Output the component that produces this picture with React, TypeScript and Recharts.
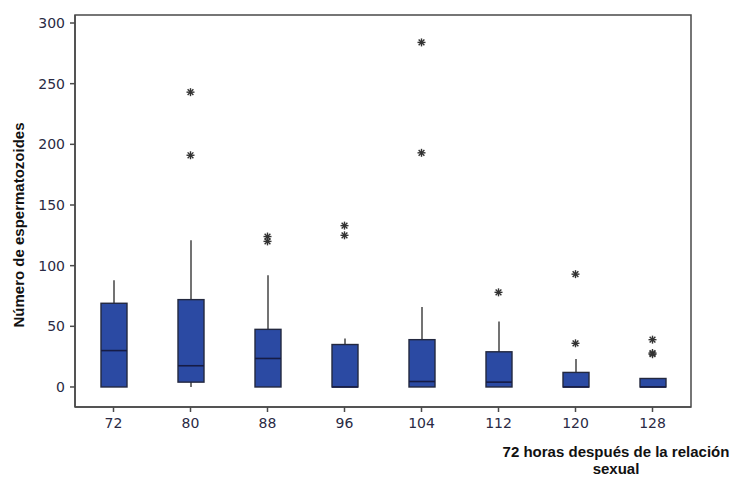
import React from "react";
import {
  ComposedChart,
  Bar,
  Line,
  XAxis,
  YAxis,
  Label,
  ReferenceArea,
} from "recharts";

// hours after intercourse (categories) and box-plot stats
const hours = ["72", "80", "88", "96", "104", "112", "120", "128"];
const q1 = [0, 4, 0, 0, 0, 0, 0, 0];
const median = [30, 17.5, 23.5, 0, 4.5, 4, 0, 0];
const q3 = [69, 72, 47.5, 35, 39, 29, 12, 7];
const whiskerLow = [0, 0, 0, 0, 0, 0, 0, 0];
const whiskerHigh = [88, 121, 92, 40, 66, 54, 23, 7];
const outlierA = [null, 243, 124, 133, 284, 78, 93, 39];
const outlierB = [null, 191, 120, 125, 193, null, 36, 28];
const outlierC = [null, null, null, null, null, null, null, 27];

const yTicks = [0, 50, 100, 150, 200, 250, 300];
const Y_DOMAIN = [-16.5, 306.6];

const BOX_FILL = "#2b4aa3";
const BOX_STROKE = "#23283f";
const MEDIAN_COLOR = "#161c45";
const WHISKER_COLOR = "#505050";
const FRAME_COLOR = "#4a4a4a";
const TICK_COLOR = "#2a2a44";
const STAR_COLOR = "#333333";

const data = hours.map((h, i) => ({
  h,
  box: [q1[i], q3[i]],
  whisker: [whiskerLow[i], whiskerHigh[i]],
  med: [median[i], median[i]],
  oA: outlierA[i],
  oB: outlierB[i],
  oC: outlierC[i],
}));

function WhiskerShape(props: any) {
  const { x, y, width, height } = props;
  if (x == null || y == null) return <g />;
  const cx = x + width / 2;
  return (
    <line x1={cx} x2={cx} y1={y} y2={y + height} stroke={WHISKER_COLOR} strokeWidth={1.6} />
  );
}

function BoxShape(props: any) {
  const { x, y, width, height } = props;
  if (x == null || y == null) return <g />;
  return (
    <rect
      x={x}
      y={y}
      width={width}
      height={Math.max(height, 0)}
      fill={BOX_FILL}
      stroke={BOX_STROKE}
      strokeWidth={1.4}
    />
  );
}

function MedianShape(props: any) {
  const { x, y, width, height } = props;
  if (x == null || y == null) return <g />;
  const my = y + height / 2;
  return <line x1={x} x2={x + width} y1={my} y2={my} stroke={MEDIAN_COLOR} strokeWidth={1.6} />;
}

function Star(props: any) {
  const { cx, cy, value } = props;
  if (value == null || cx == null || cy == null || Number.isNaN(cy)) return <g key={props.key} />;
  const r = 4;
  const d = r * 0.72;
  return (
    <g key={props.key} stroke={STAR_COLOR} strokeWidth={1.4}>
      <line x1={cx} x2={cx} y1={cy - r} y2={cy + r} />
      <line x1={cx - r} x2={cx + r} y1={cy} y2={cy} />
      <line x1={cx - d} x2={cx + d} y1={cy - d} y2={cy + d} />
      <line x1={cx - d} x2={cx + d} y1={cy + d} y2={cy - d} />
    </g>
  );
}

const labelFont = {
  fontFamily: "Liberation Sans, Arial, sans-serif",
  fontWeight: "bold" as const,
  fontSize: 15,
  fill: "#111",
};

function XLabel() {
  return (
    <text x={616} y={452} textAnchor="middle" {...labelFont}>
      <tspan x={616} dy="0.35em">72 horas después de la relación</tspan>
      <tspan x={616} dy="1.1em">sexual</tspan>
    </text>
  );
}

function YLabel() {
  return (
    <text
      x={18}
      y={225}
      textAnchor="middle"
      dominantBaseline="central"
      transform="rotate(-90 18 225)"
      {...labelFont}
    >
      Número de espermatozoides
    </text>
  );
}

export default function App() {
  return (
    <div style={{ position: "absolute", left: 0, top: 0, background: "#fff" }}>
      <ComposedChart
        width={740}
        height={479}
        data={data}
        margin={{ top: 15, right: 49, bottom: 42, left: 15 }}
        barGap={0}
        barCategoryGap={0}
      >
        <XAxis
          xAxisId="main"
          dataKey="h"
          stroke={FRAME_COLOR}
          strokeWidth={1.5}
          tickSize={5}
          tickMargin={6}
          height={30}
          tick={{ fill: TICK_COLOR, fontSize: 14, fontFamily: "DejaVu Sans, sans-serif" }}
        >
          <Label content={<XLabel />} />
        </XAxis>
        <XAxis xAxisId="whisker" dataKey="h" hide />
        <XAxis xAxisId="median" dataKey="h" hide />
        <YAxis
          domain={Y_DOMAIN}
          ticks={yTicks}
          width={60}
          stroke={FRAME_COLOR}
          strokeWidth={1.5}
          tickSize={5}
          tickMargin={5}
          allowDataOverflow
          tick={{ fill: TICK_COLOR, fontSize: 14, fontFamily: "DejaVu Sans, sans-serif" }}
        >
          <Label content={<YLabel />} />
        </YAxis>
        <ReferenceArea
          xAxisId="main"
          y1={Y_DOMAIN[0]}
          y2={Y_DOMAIN[1]}
          fill="none"
          stroke={FRAME_COLOR}
          strokeWidth={1.5}
          ifOverflow="visible"
        />
        <Bar
          xAxisId="whisker"
          dataKey="whisker"
          barSize={26}
          shape={<WhiskerShape />}
          isAnimationActive={false}
        />
        <Bar
          xAxisId="main"
          dataKey="box"
          barSize={26}
          shape={<BoxShape />}
          isAnimationActive={false}
        />
        <Bar
          xAxisId="median"
          dataKey="med"
          barSize={26}
          shape={<MedianShape />}
          isAnimationActive={false}
        />
        <Line xAxisId="main" dataKey="oA" stroke="none" dot={<Star />} activeDot={false} isAnimationActive={false} />
        <Line xAxisId="main" dataKey="oB" stroke="none" dot={<Star />} activeDot={false} isAnimationActive={false} />
        <Line xAxisId="main" dataKey="oC" stroke="none" dot={<Star />} activeDot={false} isAnimationActive={false} />
      </ComposedChart>
    </div>
  );
}
